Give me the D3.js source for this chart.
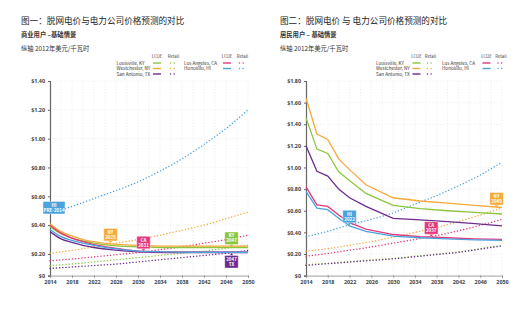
<!DOCTYPE html>
<meta charset="utf-8">
<script src="https://d3js.org/d3.v7.min.js"></script>
<style>
    body { margin: 0; background: #fff; }
    text { font-family: "Noto Sans CJK SC", "Noto Sans", sans-serif; }
</style>
<div id="chart"></div>
<script>

    // years for the cost curves and for the retail price paths
    const lcoeYears = [2014, 2016, 2018, 2020, 2022, 2025, 2030, 2035, 2040, 2045, 2050];
    const retailYears = [2014, 2018, 2022, 2026, 2030, 2034, 2038, 2042, 2046, 2050];

    const cities = ["Louisville, KY", "Westchester, NY", "San Antonio, TX", "Los Angeles, CA", "Honolulu, HI"];
    const cityColors = ["#8cc63f", "#f6a93b", "#6b2c8f", "#e5397a", "#4ba3de"];

    // commercial customers ($/kWh, 2012 dollars)
    const comLcoeKY = [0.39, 0.34, 0.31, 0.29, 0.275, 0.26, 0.25, 0.245, 0.245, 0.245, 0.245];
    const comLcoeNY = [0.41, 0.355, 0.325, 0.30, 0.285, 0.27, 0.26, 0.255, 0.255, 0.255, 0.255];
    const comLcoeTX = [0.355, 0.305, 0.28, 0.26, 0.245, 0.23, 0.215, 0.21, 0.21, 0.21, 0.21];
    const comLcoeCA = [0.40, 0.345, 0.31, 0.285, 0.265, 0.245, 0.22, 0.215, 0.215, 0.215, 0.215];
    const comLcoeHI = [0.37, 0.32, 0.295, 0.275, 0.26, 0.24, 0.22, 0.215, 0.212, 0.212, 0.212];
    const comRetailKY = [0.12, 0.13, 0.145, 0.16, 0.175, 0.19, 0.205, 0.22, 0.24, 0.26];
    const comRetailNY = [0.205, 0.225, 0.25, 0.275, 0.30, 0.33, 0.365, 0.40, 0.445, 0.49];
    const comRetailTX = [0.10, 0.11, 0.12, 0.13, 0.145, 0.16, 0.175, 0.19, 0.205, 0.225];
    const comRetailCA = [0.153, 0.165, 0.18, 0.195, 0.21, 0.23, 0.25, 0.275, 0.30, 0.33];
    const comRetailHI = [0.485, 0.53, 0.585, 0.64, 0.70, 0.775, 0.86, 0.96, 1.07, 1.20];

    // residential customers
    const resLcoeKY = [1.46, 1.17, 1.13, 0.96, 0.88, 0.76, 0.65, 0.62, 0.60, 0.585, 0.57];
    const resLcoeNY = [1.64, 1.31, 1.26, 1.08, 0.98, 0.84, 0.72, 0.69, 0.67, 0.65, 0.63];
    const resLcoeTX = [1.20, 0.965, 0.92, 0.80, 0.72, 0.64, 0.53, 0.515, 0.50, 0.48, 0.46];
    const resLcoeCA = [0.82, 0.655, 0.64, 0.56, 0.49, 0.43, 0.38, 0.36, 0.35, 0.34, 0.335];
    const resLcoeHI = [0.78, 0.625, 0.61, 0.53, 0.46, 0.41, 0.365, 0.35, 0.34, 0.33, 0.325];
    const resRetailKY = [0.10, 0.115, 0.13, 0.145, 0.16, 0.18, 0.20, 0.22, 0.25, 0.28];
    const resRetailNY = [0.225, 0.25, 0.28, 0.315, 0.355, 0.40, 0.445, 0.50, 0.56, 0.625];
    const resRetailTX = [0.095, 0.11, 0.125, 0.14, 0.155, 0.175, 0.195, 0.215, 0.245, 0.275];
    const resRetailCA = [0.18, 0.205, 0.235, 0.265, 0.30, 0.335, 0.37, 0.415, 0.465, 0.52];
    const resRetailHI = [0.36, 0.41, 0.47, 0.52, 0.58, 0.66, 0.74, 0.83, 0.93, 1.05];

    // grid parity callouts: [line 1, line 2, city index, year, value, below?, x shift, pointer?]
    const comCallouts = [
        ["HI", "PRE-2014", 4, 2014, 0.485, false, 4, false],
        ["NY", "2025", 1, 2025, 0.27, false, 0, true],
        ["CA", "2031", 3, 2031, 0.215, false, 0, true],
        ["KY", "2047", 0, 2047, 0.245, false, 0, true],
        ["2047", "TX", 2, 2047, 0.21, true, 0, true]
    ];
    const resCallouts = [
        ["HI", "2022", 4, 2022, 0.46, false, 0, true],
        ["CA", "2037", 3, 2037, 0.355, false, 0, true],
        ["NY", "2049", 1, 2049, 0.625, false, 0, true]
    ];

    const svg = d3.select("#chart").append("svg")
        .attr("width", 518)
        .attr("height", 324);

    function drawPanel(p) {
        const g = svg.append("g");
        const x = d3.scaleLinear().domain([2014, 2050]).range([p.x0, p.x1]);
        const y = d3.scaleLinear().domain([p.yMin, p.yMax]).range([275.6, 81]);

        // titles
        g.append("text").attr("x", p.tx).attr("y", 24)
            .style("font-size", "8.6px").attr("fill", "#222").text(p.title);
        g.append("text").attr("x", p.tx).attr("y", 37)
            .style("font-size", "6.3px").style("font-weight", "bold").attr("fill", "#333").text(p.sub);
        g.append("text").attr("x", p.tx).attr("y", 50.5)
            .style("font-size", "6.3px").attr("fill", "#333").text("纵轴 2012年美元/千瓦时");

        // dotted grid
        const grid = g.append("g").attr("stroke", "#dcdcdc").attr("stroke-width", 0.6)
            .attr("stroke-dasharray", "0.8,2");
        grid.selectAll("line.v").data(d3.range(2016, 2051, 2)).join("line")
            .attr("x1", d => x(d)).attr("x2", d => x(d)).attr("y1", y(p.yMax)).attr("y2", y(p.yMin));
        grid.selectAll("line.h").data(p.yTicks.slice(1)).join("line")
            .attr("x1", p.x0).attr("x2", p.x1).attr("y1", d => y(d)).attr("y2", d => y(d));

        // axes; the baseline tick carries the "$0" label
        const yAxis = g.append("g").attr("transform", `translate(${p.x0},0)`)
            .call(d3.axisLeft(y).tickValues(p.yTicks).tickSize(2)
                .tickFormat(d => d === p.yMin ? "$0" : "$" + d3.format(".2f")(d)));
        yAxis.select(".domain").attr("stroke", "#666").attr("stroke-width", 1.2);
        yAxis.selectAll(".tick line").attr("stroke", "#666");
        yAxis.selectAll("text").style("font-size", "5.4px").style("font-weight", "bold")
            .attr("fill", "#444").style("font-family", "'Open Sans', sans-serif");

        const xAxis = g.append("g").attr("transform", `translate(0,${y(p.yMin)})`)
            .call(d3.axisBottom(x).tickValues(d3.range(2014, 2051, 4)).tickSize(2).tickFormat(d3.format("d")));
        xAxis.select(".domain").attr("stroke", "#888").attr("stroke-width", 0.8);
        xAxis.selectAll(".tick line").attr("stroke", "#888");
        xAxis.selectAll("text").style("font-size", "5.4px").style("font-weight", "bold")
            .attr("fill", "#444").attr("dy", "0.55em").style("font-family", "'Open Sans', sans-serif");

        // retail price paths (dotted)
        const retailLine = d3.line().x((d, i) => x(retailYears[i])).y(d => y(d)).curve(d3.curveMonotoneX);
        g.selectAll("path.retail").data(p.retail).join("path")
            .attr("d", retailLine)
            .attr("fill", "none")
            .attr("stroke", (d, i) => cityColors[i])
            .attr("stroke-width", 1.4)
            .attr("stroke-linecap", "round")
            .attr("stroke-dasharray", "0.1,3.1");

        // levelized cost of off-grid power (solid)
        const lcoeLine = d3.line().x((d, i) => x(lcoeYears[i])).y(d => y(d)).curve(p.curve);
        g.selectAll("path.lcoe").data(p.lcoe).join("path")
            .attr("d", lcoeLine)
            .attr("fill", "none")
            .attr("stroke", (d, i) => cityColors[i])
            .attr("stroke-width", 1.3);

        // callout boxes
        p.callouts.forEach(c => {
            const px = x(c[3]), cy = y(c[4]);
            const cx = px + c[6];
            const w = c[1].length > 4 ? 22 : 13.5, h = 12.5;
            const gap = c[7] ? 3 : -1;
            const top = c[5] ? cy + gap : cy - gap - h;
            const box = g.append("g");
            if (c[7]) {
                const tip = c[5]
                    ? `M${px - 2},${top} L${px},${top - 2.2} L${px + 2},${top} Z`
                    : `M${px - 2},${top + h} L${px},${top + h + 2.2} L${px + 2},${top + h} Z`;
                box.append("path").attr("d", tip).attr("fill", cityColors[c[2]]);
            }
            box.append("rect")
                .attr("x", cx - w / 2).attr("y", top).attr("width", w).attr("height", h)
                .attr("rx", 0.8).attr("fill", cityColors[c[2]])
                .attr("stroke", "#fff").attr("stroke-width", 0.4);
            box.append("text").attr("x", cx).attr("y", top + 5.2)
                .attr("text-anchor", "middle").attr("fill", "#fff")
                .style("font-size", "4.5px").style("font-weight", "bold").text(c[0]);
            box.append("text").attr("x", cx).attr("y", top + 10.4)
                .attr("text-anchor", "middle").attr("fill", "#fff")
                .style("font-size", "4.5px").style("font-weight", "bold").text(c[1]);
        });

        // legend
        const lg = g.append("g").style("font-family", "'Open Sans', sans-serif");
        const cols = [[0, 1, 2], [3, 4]];
        cols.forEach((ids, ci) => {
            const lx = p.legX[ci];
            lg.append("text").attr("x", lx[1] + 4).attr("y", 57.5).attr("text-anchor", "middle")
                .style("font-size", "4.3px").attr("fill", "#444").text("LCOE");
            lg.append("text").attr("x", lx[2] + 3).attr("y", 57.5).attr("text-anchor", "middle")
                .style("font-size", "4.3px").attr("fill", "#444").text("Retail");
            ids.forEach((id, r) => {
                const ry = 63 + r * 5.5;
                lg.append("text").attr("x", lx[0]).attr("y", ry + 1.5)
                    .style("font-size", "4.6px").attr("fill", "#333").text(cities[id]);
                lg.append("line").attr("x1", lx[1]).attr("x2", lx[1] + 8).attr("y1", ry).attr("y2", ry)
                    .attr("stroke", cityColors[id]).attr("stroke-width", 1.4);
                lg.append("line").attr("x1", lx[2]).attr("x2", lx[2] + 6).attr("y1", ry).attr("y2", ry)
                    .attr("stroke", cityColors[id]).attr("stroke-width", 1.4)
                    .attr("stroke-linecap", "round").attr("stroke-dasharray", "0.1,3.5");
            });
        });
    }

    drawPanel({
        x0: 50, x1: 248, tx: 21, yMin: 0.05, yMax: 1.4,
        yTicks: [0.05, 0.2, 0.4, 0.6, 0.8, 1.0, 1.2, 1.4],
        title: "图一：脱网电价与电力公司价格预测的对比",
        sub: "商业用户 –基础情景",
        lcoe: [comLcoeKY, comLcoeNY, comLcoeTX, comLcoeCA, comLcoeHI],
        retail: [comRetailKY, comRetailNY, comRetailTX, comRetailCA, comRetailHI],
        curve: d3.curveMonotoneX,
        callouts: comCallouts,
        legX: [[116.5, 153, 170.5], [184, 223, 239.5]]
    });

    drawPanel({
        x0: 306, x1: 502, tx: 280, yMin: 0, yMax: 1.8,
        yTicks: [0, 0.2, 0.4, 0.6, 0.8, 1.0, 1.2, 1.4, 1.6, 1.8],
        title: "图二：脱网电价 与 电力公司价格预测的对比",
        sub: "居民用户  –  基础情景",
        lcoe: [resLcoeKY, resLcoeNY, resLcoeTX, resLcoeCA, resLcoeHI],
        retail: [resRetailKY, resRetailNY, resRetailTX, resRetailCA, resRetailHI],
        curve: d3.curveLinear,
        callouts: resCallouts,
        legX: [[376, 412.5, 427.5], [442, 482.5, 498]]
    });
</script>
